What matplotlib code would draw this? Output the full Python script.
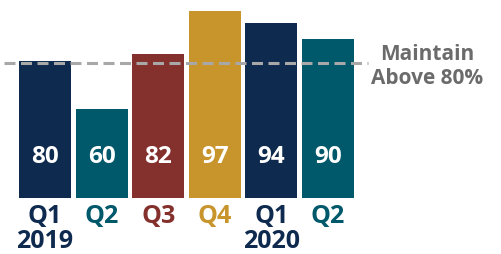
import matplotlib.pyplot as plt
import numpy as np

plt.rcParams['font.family'] = ['Open Sans', 'DejaVu Sans']

# data
quarters = ["Q1\n2019", "Q2", "Q3", "Q4", "Q1\n2020", "Q2"]
values = [80, 60, 82, 97, 94, 90]
# bar heights as drawn in the picture (not proportional to the labels)
bar_heights = [81.2, 52.7, 85.3, 110.8, 103.7, 94.2]
target = 80
colors = ["#0e2a4e", "#00586b", "#84302c", "#c8942c", "#0e2a4e", "#00586b"]

fig = plt.figure(figsize=(5.01, 2.54), dpi=100)
ax = fig.add_axes([0, 56 / 254, 1, 198 / 254])

x = np.arange(len(values))
ax.bar(x, bar_heights, width=0.92, color=colors)

for xi, v in zip(x, values):
    ax.text(xi, 24.3, str(v), ha='center', va='center', color='white',
            fontsize=17.5, fontweight='bold')

ax.hlines(target, -0.724, 5.707, colors='#a8a8a8', linewidth=2.2,
          linestyles=(0, (3.6, 1.8)))
ax.text(6.75, 77.8, "Maintain\nAbove 80%", ha='center', va='center',
        color='#6b6b6b', fontsize=15, fontweight='bold', linespacing=1.2)

ax.set_xticks(x)
ax.set_xticklabels(quarters, fontsize=18, fontweight='bold', linespacing=0.98)
for lbl, c in zip(ax.get_xticklabels(), colors):
    lbl.set_color(c)
ax.tick_params(axis='x', length=0, pad=4.5)
ax.set_yticks([])
ax.set_xlim(-0.795, 8.057)
ax.set_ylim(0, 117.3)
for s in ax.spines.values():
    s.set_visible(False)

fig.savefig("out.png", dpi=100)
